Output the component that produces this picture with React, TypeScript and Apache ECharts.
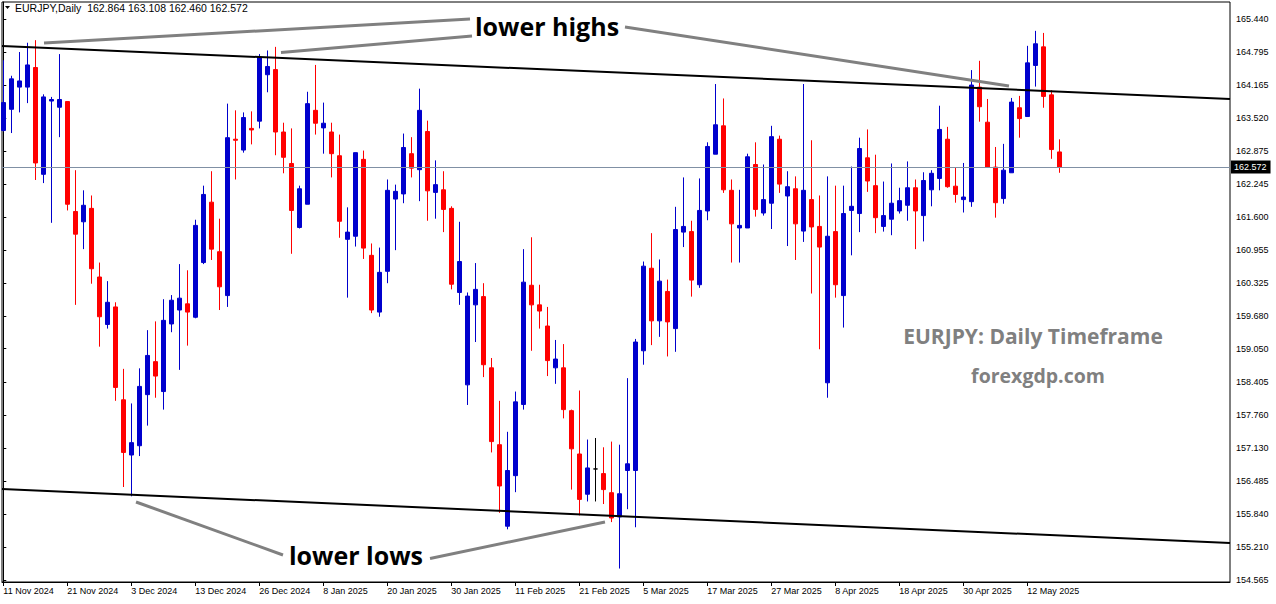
import React, { useEffect, useRef } from "react";
import * as echarts from "echarts";

const dates = [
  "11 Nov 2024","12 Nov 2024","13 Nov 2024","14 Nov 2024","15 Nov 2024","18 Nov 2024","19 Nov 2024","20 Nov 2024","21 Nov 2024","22 Nov 2024","25 Nov 2024","26 Nov 2024","27 Nov 2024","28 Nov 2024","29 Nov 2024",
  "2 Dec 2024","3 Dec 2024","4 Dec 2024","5 Dec 2024","6 Dec 2024","9 Dec 2024","10 Dec 2024","11 Dec 2024","12 Dec 2024","13 Dec 2024","16 Dec 2024","17 Dec 2024","18 Dec 2024","19 Dec 2024","20 Dec 2024","23 Dec 2024","24 Dec 2024","26 Dec 2024","27 Dec 2024","30 Dec 2024","31 Dec 2024",
  "2 Jan 2025","3 Jan 2025","6 Jan 2025","7 Jan 2025","8 Jan 2025","9 Jan 2025","10 Jan 2025","13 Jan 2025","14 Jan 2025","15 Jan 2025","16 Jan 2025","17 Jan 2025","20 Jan 2025","21 Jan 2025","22 Jan 2025","23 Jan 2025","24 Jan 2025","27 Jan 2025","28 Jan 2025","29 Jan 2025","30 Jan 2025","31 Jan 2025",
  "3 Feb 2025","4 Feb 2025","5 Feb 2025","6 Feb 2025","7 Feb 2025","10 Feb 2025","11 Feb 2025","12 Feb 2025","13 Feb 2025","14 Feb 2025","17 Feb 2025","18 Feb 2025","19 Feb 2025","20 Feb 2025","21 Feb 2025","24 Feb 2025","25 Feb 2025","26 Feb 2025","27 Feb 2025","28 Feb 2025",
  "3 Mar 2025","4 Mar 2025","5 Mar 2025","6 Mar 2025","7 Mar 2025","10 Mar 2025","11 Mar 2025","12 Mar 2025","13 Mar 2025","14 Mar 2025","17 Mar 2025","18 Mar 2025","19 Mar 2025","20 Mar 2025","21 Mar 2025","24 Mar 2025","25 Mar 2025","26 Mar 2025","27 Mar 2025","28 Mar 2025","31 Mar 2025",
  "1 Apr 2025","2 Apr 2025","3 Apr 2025","4 Apr 2025","7 Apr 2025","8 Apr 2025","9 Apr 2025","10 Apr 2025","11 Apr 2025","14 Apr 2025","15 Apr 2025","16 Apr 2025","17 Apr 2025","18 Apr 2025","21 Apr 2025","22 Apr 2025","23 Apr 2025","24 Apr 2025","25 Apr 2025","28 Apr 2025","29 Apr 2025","30 Apr 2025",
  "1 May 2025","2 May 2025","5 May 2025","6 May 2025","7 May 2025","8 May 2025","9 May 2025","12 May 2025","13 May 2025","14 May 2025","15 May 2025","16 May 2025"
];

const opens = [
  163.28,163.69,164.12,164.12,164.50,162.43,163.85,163.73,163.84,161.71,161.51,161.77,160.44,159.52,159.86,158.06,156.99,157.17,158.16,158.80,
  158.22,159.53,159.80,159.92,159.66,160.72,161.89,160.93,160.08,163.11,162.90,163.32,163.46,164.36,164.46,163.25,162.64,161.40,161.85,163.67,
  163.33,163.25,162.79,161.17,161.23,162.72,160.86,159.76,160.55,161.95,162.05,162.83,162.52,163.26,162.08,162.13,161.77,160.14,158.35,159.90,
  160.06,158.68,157.19,155.61,156.59,157.97,160.28,159.90,159.49,158.68,158.68,157.85,157.01,156.23,156.72,156.63,156.26,155.79,156.69,156.69,
  159.01,160.61,159.59,160.16,159.44,161.31,161.32,160.29,161.72,162.82,163.37,162.12,161.39,161.39,162.62,161.68,161.87,163.11,162.01,162.15,
  161.33,161.94,161.42,158.39,161.32,160.08,161.73,161.67,162.75,162.21,161.42,161.56,161.72,161.83,162.17,161.63,162.13,162.35,163.11,162.20,
  161.94,161.90,164.12,163.44,162.57,161.96,162.46,163.72,163.55,164.54,164.90,163.97,162.864
];
const highs = [
  164.64,164.34,164.80,164.98,165.03,163.98,163.93,164.76,163.84,162.51,162.12,162.02,160.72,160.36,159.95,158.66,157.99,158.67,159.41,159.58,
  160.01,160.09,160.69,160.57,161.55,162.21,162.49,161.57,163.80,163.67,163.63,163.65,164.76,164.83,164.90,163.43,163.32,162.21,164.03,164.55,
  163.82,163.43,163.20,161.79,162.85,162.89,161.09,161.01,162.33,162.23,163.22,163.15,164.09,163.47,162.70,162.49,161.81,161.51,160.14,160.71,
  160.32,158.87,158.04,157.44,158.22,160.98,161.21,160.29,159.86,159.22,159.14,157.87,158.24,157.29,157.32,157.14,157.25,157.19,158.48,159.24,
  160.74,161.29,160.78,160.39,161.80,162.37,161.53,162.35,163.05,164.18,163.90,162.33,162.13,162.83,163.05,162.62,163.37,163.18,162.49,162.39,
  164.18,163.09,162.02,162.39,162.21,162.21,162.58,163.14,163.30,162.81,162.29,162.64,162.17,162.68,162.33,162.47,162.51,163.76,163.35,162.56,
  162.65,164.45,164.63,163.89,162.96,163.02,163.91,163.95,164.92,165.21,165.17,164.06,163.108
];
const lows = [
  163.26,163.23,163.63,163.81,162.32,162.26,161.49,163.15,161.73,159.90,160.98,160.31,159.09,159.44,158.04,156.37,156.19,156.97,157.56,158.10,
  157.87,159.37,158.64,159.11,159.64,160.69,160.77,159.80,159.86,162.33,162.85,163.01,163.32,164.02,162.80,162.45,160.89,161.38,161.85,163.20,
  162.83,162.37,161.20,160.04,161.03,160.79,159.74,159.67,160.32,160.96,161.87,162.37,161.91,161.53,161.57,161.31,160.20,159.90,157.96,159.18,
  158.50,157.04,155.87,155.55,156.27,157.87,159.01,159.44,158.52,158.37,157.70,156.32,155.82,156.09,156.09,156.04,155.69,154.79,155.94,155.59,
  158.74,159.12,159.28,158.90,158.99,161.02,160.06,160.23,161.54,162.82,162.07,160.72,160.72,161.39,161.61,161.63,161.37,162.07,161.04,160.77,
  161.12,160.12,159.04,158.10,160.04,159.46,160.86,161.31,162.09,161.29,161.32,161.25,161.67,161.53,160.98,161.13,161.81,162.12,162.17,161.88,
  161.69,161.80,163.45,162.57,161.59,161.86,162.46,163.14,163.55,164.13,163.72,162.73,162.460
];
const closes = [
  163.82,164.28,164.24,164.55,162.65,163.93,163.88,163.88,161.85,161.27,161.83,160.60,159.67,159.95,158.30,157.04,157.23,158.32,158.92,158.52,
  159.60,159.99,160.03,159.76,161.44,162.04,160.98,160.25,163.14,163.09,163.53,163.29,164.70,164.52,163.25,162.76,161.73,162.15,163.80,163.42,
  163.42,162.83,161.52,161.31,162.85,161.00,159.80,160.53,162.12,162.10,162.95,162.55,163.67,162.11,162.23,161.75,160.30,160.74,160.07,160.20,
  158.74,157.25,156.39,156.69,158.02,160.34,159.90,159.78,158.82,158.85,157.87,157.11,156.13,156.74,156.72,156.32,155.77,156.24,156.82,159.18,
  160.65,159.59,160.36,159.57,161.36,161.42,160.38,161.73,162.97,163.39,162.13,161.47,161.44,162.77,161.75,161.94,163.16,162.24,162.19,161.47,
  162.12,161.41,161.02,161.23,160.29,161.67,161.81,162.93,162.30,161.59,161.63,161.87,161.92,162.17,161.72,162.31,162.45,163.30,162.19,162.04,
  161.99,164.16,163.74,162.57,161.88,162.51,163.83,163.51,164.59,164.96,163.94,162.91,162.572
];

const priceTicks = ["165.440","164.795","164.165","163.520","162.875","162.245","161.600","160.955","160.325","159.680","159.050","158.405","157.760","157.130","156.485","155.840","155.210","154.565"];
const dateTickIndex = [0, 8, 16, 24, 32, 40, 48, 56, 64, 72, 80, 88, 96, 104, 112, 120, 128];
const lastPrice = 162.572;
const header = "EURJPY,Daily  162.864 163.108 162.460 162.572";

// trend lines and annotation strokes, in [bar index, price]
const upperTrend = [[-0.1625, 164.917], [153.3375, 163.890]];
const lowerTrend = [[-0.1625, 156.332], [153.3375, 155.285]];
const pointerLines = [
  [[5.09, 164.975], [58.34, 165.44]],
  [[34.71, 164.791], [58.59, 165.111]],
  [[77.71, 165.285], [125.71, 164.142]],
  [[16.59, 156.08], [34.96, 155.053]],
  [[53.34, 154.985], [75.21, 155.692]],
];

const X_MIN = -0.1625;
const X_MAX = 153.3375;
const Y_MAX = 165.7695;
const Y_MIN = 154.5292;

export default function App() {
  const ref = useRef<HTMLDivElement>(null);
  useEffect(() => {
    if (!ref.current) return;
    const chart = echarts.init(ref.current, null, { renderer: "svg" });
    const candleData = dates.map((d, i) => [i, opens[i], closes[i], lows[i], highs[i]]);
    const axisFont = { fontFamily: "Liberation Sans", fontSize: 9, color: "#000" };
    const series: any[] = [
      {
        type: "candlestick",
        data: candleData,
        barWidth: 4,
        clip: true,
        silent: true,
        itemStyle: {
          color: "#0000CD",
          color0: "#FF0000",
          borderColor: "#0000CD",
          borderColor0: "#FF0000",
          borderColorDoji: "#000000",
          borderWidth: 1,
        },
        markLine: {
          silent: true,
          symbol: ["none", "none"],
          lineStyle: { color: "#8090a4", width: 1, type: "solid" },
          label: {
            show: true,
            position: "end",
            formatter: lastPrice.toFixed(3),
            color: "#fff",
            backgroundColor: "#000",
            fontFamily: "Liberation Sans",
            fontSize: 9,
            padding: [2, 4, 2, 3],
            distance: 1,
          },
          emphasis: { disabled: true },
          data: [{ yAxis: lastPrice }],
        },
        z: 2,
      },
      {
        type: "line",
        data: upperTrend,
        symbol: "none",
        silent: true,
        lineStyle: { color: "#000", width: 2 },
        z: 3,
      },
      {
        type: "line",
        data: lowerTrend,
        symbol: "none",
        silent: true,
        lineStyle: { color: "#000", width: 2 },
        z: 3,
      },
      ...pointerLines.map((pl) => ({
        type: "line",
        data: pl,
        symbol: "none",
        silent: true,
        clip: false,
        lineStyle: { color: "#808080", width: 3 },
        z: 4,
      })),
    ];
    chart.setOption({
      animation: false,
      backgroundColor: "#fff",
      grid: {
        left: 2,
        right: 46,
        top: 2,
        bottom: 22,
        show: true,
        borderColor: "#000",
        borderWidth: 1,
        backgroundColor: "transparent",
      },
      xAxis: {
        type: "value",
        min: X_MIN,
        max: X_MAX,
        splitLine: { show: false },
        axisLine: { show: true, lineStyle: { color: "#000", width: 1 } },
        axisTick: { show: true, customValues: dateTickIndex, length: 4, lineStyle: { color: "#000" } },
        axisLabel: {
          ...axisFont,
          customValues: dateTickIndex,
          formatter: (v: number) => dates[Math.round(v)] || "",
          align: "left",
          margin: 4,
        },
      },
      yAxis: {
        type: "value",
        position: "right",
        min: Y_MIN,
        max: Y_MAX,
        scale: true,
        splitLine: { show: false },
        axisLine: { show: true, lineStyle: { color: "#000", width: 1 } },
        axisTick: { show: true, customValues: priceTicks.map(Number), length: 3, lineStyle: { color: "#000" } },
        axisLabel: {
          ...axisFont,
          customValues: priceTicks.map(Number),
          formatter: (v: number) => v.toFixed(3),
          margin: 6,
        },
      },
      series,
      graphic: [
        {
          type: "polygon",
          shape: { points: [[5, 6], [10, 6], [7.5, 9]] },
          style: { fill: "#000" },
          silent: true,
        },
        {
          type: "text",
          x: 15,
          y: 8,
          style: {
            text: header,
            fill: "#000",
            font: "10.5px 'Liberation Sans'",
            textVerticalAlign: "middle",
            textAlign: "left",
          },
          silent: true,
        },
        {
          type: "text",
          x: 547,
          y: 26,
          style: {
            text: "lower highs",
            fill: "#000",
            font: "bold 25px 'Open Sans'",
            textAlign: "center",
            textVerticalAlign: "middle",
          },
          silent: true,
        },
        {
          type: "text",
          x: 356,
          y: 555,
          style: {
            text: "lower lows",
            fill: "#000",
            font: "bold 25px 'Open Sans'",
            textAlign: "center",
            textVerticalAlign: "middle",
          },
          silent: true,
        },
        {
          type: "text",
          x: 1033,
          y: 336,
          style: {
            text: "EURJPY: Daily Timeframe",
            fill: "#808080",
            font: "bold 21px 'Open Sans'",
            textAlign: "center",
            textVerticalAlign: "middle",
          },
          silent: true,
        },
        {
          type: "text",
          x: 1038,
          y: 375,
          style: {
            text: "forexgdp.com",
            fill: "#808080",
            font: "bold 19.5px 'Open Sans'",
            textAlign: "center",
            textVerticalAlign: "middle",
          },
          silent: true,
        },
      ],
    });
    return () => chart.dispose();
  }, []);
  return (
    <div
      ref={ref}
      style={{ position: "absolute", left: 0, top: 0, width: 1276, height: 604, background: "#fff" }}
    />
  );
}
